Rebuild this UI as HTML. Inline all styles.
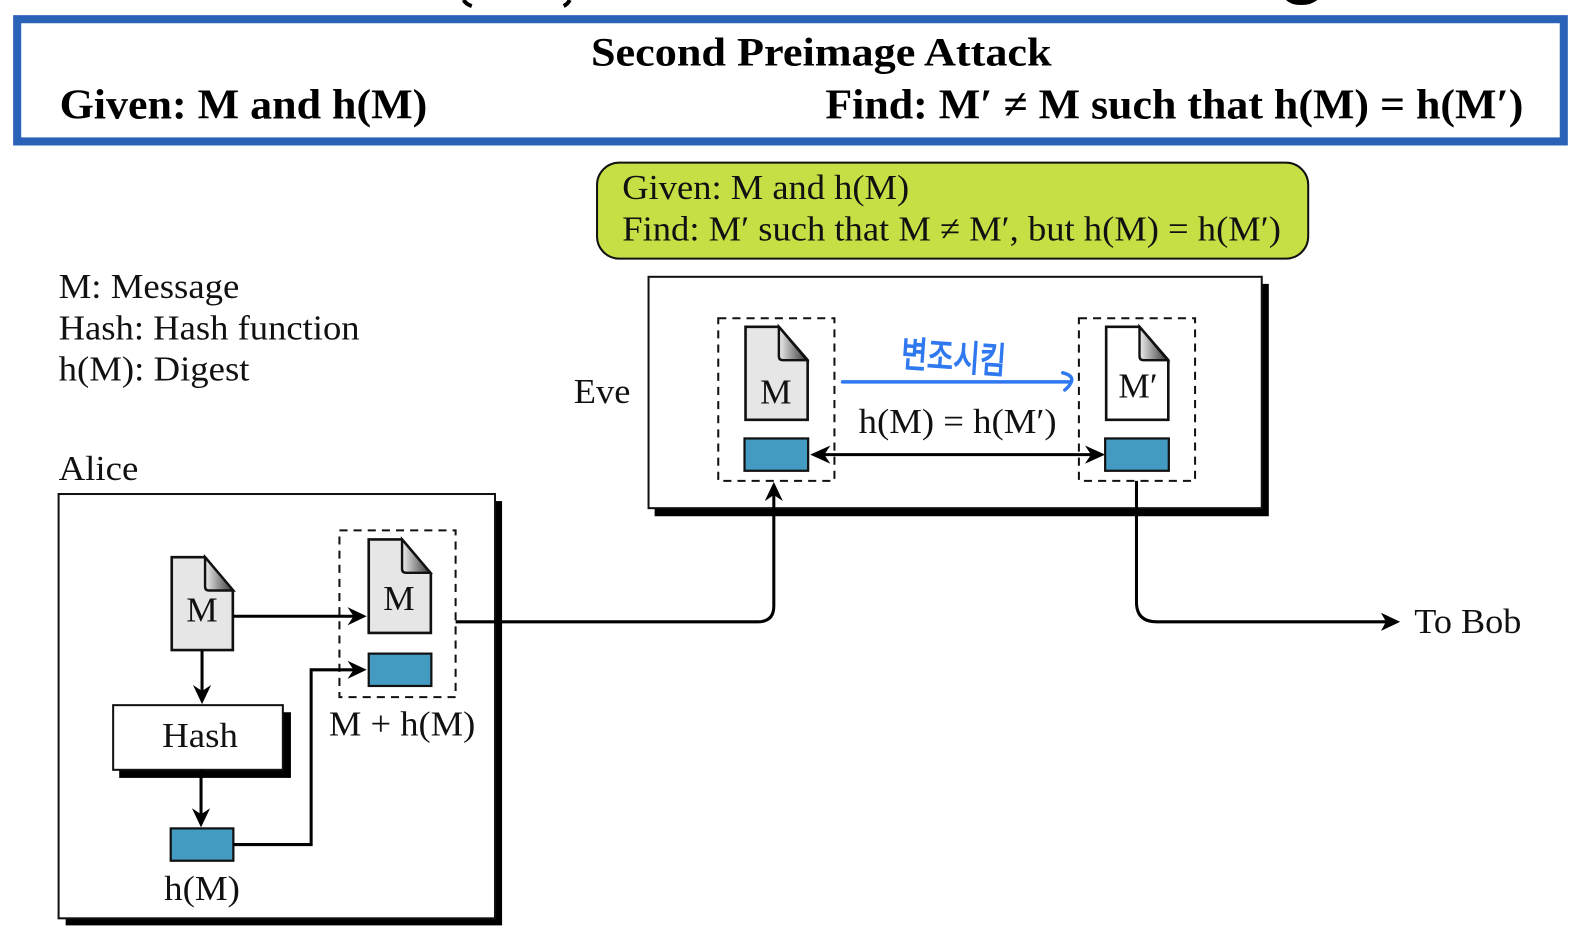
<!DOCTYPE html>
<html><head><meta charset="utf-8"><style>
html,body{margin:0;padding:0;background:#fff;width:1584px;height:936px;overflow:hidden}
svg{display:block}
text{font-family:"Liberation Serif","Noto Serif CJK SC",serif;fill:#111}
.b{font-weight:bold;fill:#000}
.k{font-family:"Liberation Sans","Noto Sans CJK KR",sans-serif;fill:#2f78f0;stroke:#2f78f0;stroke-width:1.2}
.doc{stroke:#111;stroke-width:2.6;stroke-linejoin:miter}
.dash{fill:none;stroke:#111;stroke-width:2;stroke-dasharray:8 6}
.ln{fill:none;stroke:#000;stroke-width:3}
.blue{fill:#449bc2;stroke:#111;stroke-width:2.2}
</style></head><body>
<svg width="1584" height="936" viewBox="0 0 1568 926.5" preserveAspectRatio="none" xmlns="http://www.w3.org/2000/svg">
<defs>
<linearGradient id="g" x1="0" y1="0" x2="1" y2="0"><stop offset="0" stop-color="#eee"/><stop offset="1" stop-color="#333"/></linearGradient>
<g id="fold"><path d="M33,0 V29 Q33,33 37,33 H61 Z" fill="url(#g)" stroke="#111" stroke-width="2.4"/></g>
</defs>
<rect width="1600" height="960" fill="#fff"/>

<!-- clipped top heading remnants -->
<path d="M459,0 Q461,4 467,6 M564,0 Q562,4 558,6" fill="none" stroke="#000" stroke-width="4"/>
<path d="M1273,0 Q1278,5 1288,5 Q1298,5 1304,0 Z" fill="#000"/>

<!-- blue frame -->
<rect x="17" y="19" width="1531" height="121" fill="#fff" stroke="#2a62b8" stroke-width="8"/>
<text class="b" x="585" y="65" font-size="40" textLength="456" lengthAdjust="spacingAndGlyphs">Second Preimage Attack</text>
<text class="b" x="59" y="117.500" font-size="42" textLength="364" lengthAdjust="spacingAndGlyphs">Given: M and h(M)</text>
<text class="b" x="817" y="117.500" font-size="42" textLength="691" lengthAdjust="spacingAndGlyphs">Find: M′ ≠ M such that h(M) = h(M′)</text>

<!-- green box -->
<rect x="591" y="161" width="704" height="95" rx="22" ry="22" fill="#c5df45" stroke="#111" stroke-width="2"/>
<text x="616" y="197" font-size="35" textLength="284" lengthAdjust="spacingAndGlyphs">Given: M and h(M)</text>
<text x="616" y="238" font-size="35" textLength="652" lengthAdjust="spacingAndGlyphs">Find: M′ such that M ≠ M′, but h(M) = h(M′)</text>

<!-- legend -->
<text x="58" y="295" font-size="35" textLength="179" lengthAdjust="spacingAndGlyphs">M: Message</text>
<text x="58" y="336" font-size="35" textLength="298" lengthAdjust="spacingAndGlyphs">Hash: Hash function</text>
<text x="58" y="376.500" font-size="35" textLength="189" lengthAdjust="spacingAndGlyphs">h(M): Digest</text>
<text x="58" y="475" font-size="35" textLength="79" lengthAdjust="spacingAndGlyphs">Alice</text>
<text x="568" y="399" font-size="35" textLength="56" lengthAdjust="spacingAndGlyphs">Eve</text>

<!-- Eve box -->
<rect x="648" y="281" width="608" height="230" fill="#000"/>
<rect x="642" y="274" width="607" height="229" fill="#fff" stroke="#111" stroke-width="2"/>
<rect class="dash" x="711" y="315" width="115" height="161"/>
<rect class="dash" x="1068" y="315" width="115" height="161"/>
<path class="doc" d="M738,323.500 H771 L799.500,356.500 V415.500 H738 Z" fill="#e6e6e6"/>
<use href="#fold" x="738" y="323.500"/>
<text x="768" y="399.500" font-size="35" text-anchor="middle">M</text>
<path class="doc" d="M1095,323.500 H1128 L1156.500,356.500 V415.500 H1095 Z" fill="#fff"/>
<use href="#fold" x="1095" y="323.500"/>
<text x="1126.500" y="393.500" font-size="35" text-anchor="middle">M′</text>
<rect class="blue" x="737" y="434" width="63" height="32"/>
<rect class="blue" x="1094" y="434" width="63" height="32"/>
<text x="850" y="428.500" font-size="35" textLength="196" lengthAdjust="spacingAndGlyphs">h(M) = h(M′)</text>
<path class="ln" d="M816,450 H1080"/>
<path d="M802,450 L822,441 L816,450 L822,459 Z M1094,450 L1074,441 L1080,450 L1074,459 Z" fill="#000"/>

<!-- blue annotation -->
<path d="M834,378 H1060 M1052,369 Q1064,372 1060,379 Q1058,383 1054,386" fill="none" stroke="#2f78f0" stroke-width="3.4" stroke-linecap="round"/>
<text class="k" x="892" y="366" font-size="36" textLength="104" lengthAdjust="spacingAndGlyphs" transform="rotate(4 940 352)">변조시킴</text>

<!-- Alice box -->
<rect x="65" y="496" width="432" height="420" fill="#000"/>
<rect x="58" y="489" width="432" height="420" fill="#fff" stroke="#111" stroke-width="2"/>
<rect class="dash" x="336" y="525" width="115" height="165"/>

<path class="doc" d="M170,551.500 H203 L230.500,584.500 V643.500 H170 Z" fill="#e6e6e6"/>
<use href="#fold" x="170" y="551.500"/>
<text x="200" y="615" font-size="35" text-anchor="middle">M</text>
<path class="doc" d="M365,534 H398 L426.500,567.500 V626.500 H365 Z" fill="#e6e6e6"/>
<use href="#fold" x="365" y="534"/>
<text x="395" y="604" font-size="35" text-anchor="middle">M</text>
<rect class="blue" x="365" y="647" width="62" height="32"/>

<rect x="118" y="705" width="170" height="65" fill="#000"/>
<rect x="112" y="698" width="168" height="64" fill="#fff" stroke="#111" stroke-width="2"/>
<text x="198" y="739.500" font-size="35" text-anchor="middle" textLength="75" lengthAdjust="spacingAndGlyphs">Hash</text>
<rect class="blue" x="169" y="820" width="62" height="32"/>
<text x="200" y="891" font-size="35" text-anchor="middle" textLength="75" lengthAdjust="spacingAndGlyphs">h(M)</text>
<text x="398" y="728" font-size="35" text-anchor="middle" textLength="145" lengthAdjust="spacingAndGlyphs">M + h(M)</text>

<path class="ln" d="M231,610 H350"/>
<path d="M363,610 L344,601 L350,610 L344,619 Z" fill="#000"/>
<path class="ln" d="M200,644 V684"/>
<path d="M200,697 L191,678 L200,684 L209,678 Z" fill="#000"/>
<path class="ln" d="M199,762 V806"/>
<path d="M199,819 L190,800 L199,806 L208,800 Z" fill="#000"/>
<path class="ln" d="M231,836 H308 V663 H350"/>
<path d="M363,663 L344,654 L350,663 L344,672 Z" fill="#000"/>

<!-- long connectors -->
<path class="ln" d="M451,615.500 H750 Q766,615.500 766,600 V490"/>
<path d="M766,477 L757,496 L766,490 L775,496 Z" fill="#000"/>
<path class="ln" d="M1125,476 V596 Q1125,615.500 1145,615.500 H1372"/>
<path d="M1386,615.500 L1367,606.500 L1372,615.500 L1367,624.500 Z" fill="#000"/>
<text x="1400" y="626.500" font-size="35" textLength="106" lengthAdjust="spacingAndGlyphs">To Bob</text>
</svg>
</body></html>
